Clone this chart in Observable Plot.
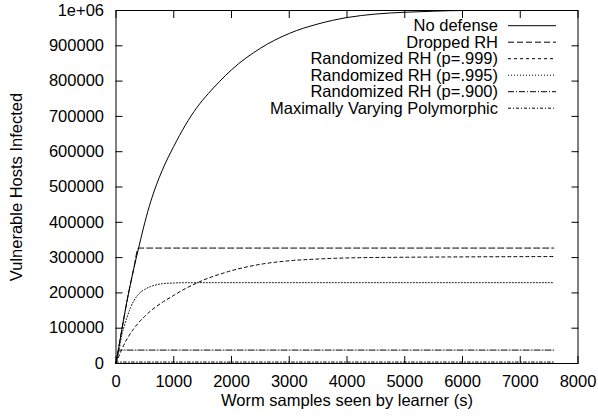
<!DOCTYPE html>
<html><head><meta charset="utf-8">
<script src="https://cdn.jsdelivr.net/npm/d3@7"></script>
<script src="https://cdn.jsdelivr.net/npm/@observablehq/plot@0.6"></script>
<style>
body{margin:0;background:#fff;}
#wrap{position:relative;width:598px;height:420px;font-family:"Liberation Sans",Arial,Helvetica,sans-serif;}
#legend{position:absolute;left:0;top:0;pointer-events:none;}
</style></head><body><div id="wrap"></div>
<script>
// Series data (x = worm samples, y = hosts infected)
const tNoDefense = [0,100,200,300,400,500,600,700,800,1000,1200,1400,1600,1800,2000,2500,3000,3500,4000,4500,5000,5500,6000,7580];
const vNoDefense = [0,95000,185000,263000,333000,400000,458000,506000,547000,615000,675000,725000,765000,800000,832000,893000,935000,962000,980000,990000,995000,998000,1000000,1000000];

const tDropped = [0,100,200,300,391,7580];
const vDropped = [0,95000,185000,263000,327000,327000];

const tP999 = [0,100,200,300,400,500,600,800,1000,1200,1400,1600,1800,2000,2500,3000,3500,4000,5000,6000,7580];
const vP999 = [0,40000,72000,97000,117000,134000,149000,173000,193000,212000,228000,242000,253000,263000,281000,291000,296000,299000,301000,302000,303000];

const tP995 = [0,50,100,150,200,250,300,400,500,600,700,800,1000,1200,7580];
const vP995 = [0,35000,80000,110000,135000,158000,175000,198000,210000,218000,223000,226000,228000,229000,229000];

const tP900 = [0,50,7580];
const vP900 = [0,38000,38000];

const tPoly = [0,20,7580];
const vPoly = [0,4000,4000];

const seriesNames = ["No defense","Dropped RH","Randomized RH (p=.999)","Randomized RH (p=.995)","Randomized RH (p=.900)","Maximally Varying Polymorphic"];
const xTicks = [0,1000,2000,3000,4000,5000,6000,7000,8000];
const yTicks = [0,100000,200000,300000,400000,500000,600000,700000,800000,900000,1000000];
const xTitle = "Worm samples seen by learner (s)";
const yTitle = "Vulnerable Hosts Infected";

const seriesT = [tNoDefense,tDropped,tP999,tP995,tP900,tPoly];
const seriesV = [vNoDefense,vDropped,vP999,vP995,vP900,vPoly];
const dashes = [null,"6,3","3,3","1,2","6,2,1,2","3,2,1,2"];

const rows = seriesNames.map((name,i) => seriesT[i].map((t,j) => ({series:name, t, v: seriesV[i][j]})));

const font = '"Liberation Sans",Arial,Helvetica,sans-serif';
const fs = 16.5;
const fmtY = d => d === 1000000 ? "1e+06" : String(d);

const chart = Plot.plot({
  width: 598, height: 420,
  marginLeft: 115.5, marginRight: 20.5, marginTop: 10, marginBottom: 57,
  style: {fontFamily: font, fontSize: fs + "px", background: "white", color: "black"},
  x: {domain: [0,8000]},
  y: {domain: [0,1000000]},
  marks: [
    Plot.axisY(yTicks, {anchor:"left", tickSize:-7, tickPadding:19, tickFormat: fmtY, label:null, fontSize:fs}),
    Plot.axisY(yTicks, {anchor:"right", tickSize:-7, tickFormat: () => "", label:null}),
    Plot.axisX(xTicks, {anchor:"bottom", tickSize:-7, tickPadding:19, tickFormat: d => String(d), label:null, fontSize:fs}),
    Plot.axisX(xTicks, {anchor:"top", tickSize:-7, tickFormat: () => "", label:null}),
    ...rows.map((r,i) => Plot.line(r, {x:"t", y:"v", curve:"monotone-x", stroke:"black", strokeWidth:1, strokeDasharray: dashes[i] || undefined})),
    Plot.frame({stroke:"black", strokeWidth:1}),
    Plot.text([xTitle], {frameAnchor:"bottom", dy:42.5, text: d => d, fontSize:fs, textAnchor:"middle"}),
    Plot.text([yTitle], {frameAnchor:"left", dx:-99, rotate:-90, text: d => d, fontSize:fs, textAnchor:"middle"})
  ]
});
const wrap = document.getElementById("wrap");
wrap.appendChild(chart);

// Legend (gnuplot style, inside top-right of the frame)
const leg = d3.select(wrap).append("svg").attr("id","legend").attr("width",598).attr("height",420);
const textRight = 498, sampleX1 = 508, sampleX2 = 556, row0 = 25.7, rowStep = 16.5;
seriesNames.forEach((name,i) => {
  const y = row0 + i*rowStep;
  leg.append("text").attr("x",textRight).attr("y",y).attr("dy","0.35em")
    .attr("text-anchor","end").attr("font-family",font).attr("font-size",fs).attr("fill","black").text(name);
  const ln = leg.append("line").attr("x1",sampleX1).attr("x2",sampleX2).attr("y1",y).attr("y2",y)
    .attr("stroke","black").attr("stroke-width",1);
  if (dashes[i]) ln.attr("stroke-dasharray",dashes[i]);
});
</script></body></html>
